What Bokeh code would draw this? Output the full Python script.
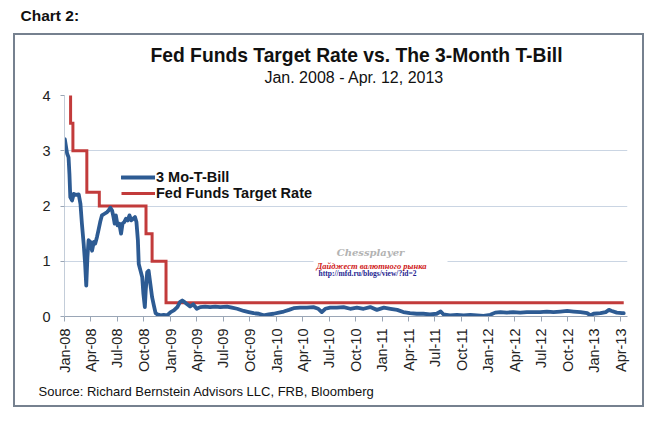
import pandas as pd
from math import pi
from bokeh.plotting import figure
from bokeh.layouts import column
from bokeh.models import (Range1d, FixedTicker, DatetimeTickFormatter, Label,
                          BoxAnnotation, Legend, LegendItem)
from bokeh.embed import file_html
from bokeh.resources import INLINE

# ---------------- data ----------------
tbill_dates = [
    "2008-01-02", "2008-01-10", "2008-01-15", "2008-01-18", "2008-01-21", "2008-01-27",
    "2008-02-02", "2008-02-10", "2008-02-19", "2008-02-25", "2008-03-01", "2008-03-07",
    "2008-03-12", "2008-03-16", "2008-03-20", "2008-03-24", "2008-03-30", "2008-04-05",
    "2008-04-11", "2008-04-16", "2008-04-22", "2008-04-27", "2008-05-03", "2008-05-09",
    "2008-05-18", "2008-05-27", "2008-06-01", "2008-06-07", "2008-06-13", "2008-06-18",
    "2008-06-22", "2008-06-26", "2008-07-02", "2008-07-08", "2008-07-14", "2008-07-19",
    "2008-07-25", "2008-07-31", "2008-08-06", "2008-08-12", "2008-08-18", "2008-08-25",
    "2008-08-31", "2008-09-05", "2008-09-10", "2008-09-13", "2008-09-19", "2008-09-25",
    "2008-09-29", "2008-10-04", "2008-10-07", "2008-10-12", "2008-10-17", "2008-10-23",
    "2008-10-29", "2008-11-04", "2008-11-10", "2008-11-16", "2008-11-27", "2008-12-08",
    "2008-12-20", "2009-01-01", "2009-01-12", "2009-01-24", "2009-02-02", "2009-02-10",
    "2009-02-18", "2009-02-27", "2009-03-09", "2009-03-20", "2009-04-01", "2009-04-13",
    "2009-04-30", "2009-05-17", "2009-06-04", "2009-06-21", "2009-07-14", "2009-07-31",
    "2009-08-18", "2009-09-10", "2009-09-27", "2009-10-14", "2009-11-01", "2009-11-18",
    "2009-12-05", "2009-12-22", "2010-01-09", "2010-01-26", "2010-02-13", "2010-03-01",
    "2010-03-23", "2010-04-16", "2010-05-08", "2010-05-25", "2010-06-06", "2010-06-18",
    "2010-07-05", "2010-07-28", "2010-08-20", "2010-09-12", "2010-10-05", "2010-10-28",
    "2010-11-20", "2010-12-13", "2011-01-06", "2011-01-29", "2011-02-21", "2011-03-14",
    "2011-04-06", "2011-04-29", "2011-05-22", "2011-06-14", "2011-07-07", "2011-07-21",
    "2011-07-30", "2011-08-22", "2011-09-15", "2011-10-08", "2011-10-31", "2011-11-23",
    "2011-12-16", "2012-01-08", "2012-01-25", "2012-02-12", "2012-03-05", "2012-03-27",
    "2012-04-20", "2012-05-13", "2012-06-05", "2012-06-28", "2012-07-21", "2012-08-13",
    "2012-09-06", "2012-09-29", "2012-10-21", "2012-11-14", "2012-12-07", "2012-12-18",
    "2012-12-29", "2013-01-22", "2013-02-09", "2013-02-20", "2013-03-02", "2013-03-19",
    "2013-04-06", "2013-04-12",
]
tbill_rates = [
    3.21, 2.95, 2.88, 2.58, 2.16, 2.10,
    2.22, 2.20, 2.21, 2.04, 1.68, 1.32,
    0.96, 0.56, 1.07, 1.38, 1.35, 1.19,
    1.35, 1.32, 1.44, 1.56, 1.71, 1.83,
    1.86, 1.89, 1.92, 1.97, 1.92, 1.80,
    1.68, 1.83, 1.65, 1.68, 1.50, 1.68,
    1.71, 1.77, 1.74, 1.83, 1.74, 1.77,
    1.80, 1.71, 1.38, 0.95, 0.83, 0.71,
    0.41, 0.17, 0.47, 0.80, 0.83, 0.59,
    0.35, 0.20, 0.06, 0.04, 0.02, 0.03,
    0.02, 0.08, 0.11, 0.17, 0.26, 0.29,
    0.26, 0.22, 0.18, 0.22, 0.14, 0.17,
    0.18, 0.17, 0.18, 0.17, 0.18, 0.16,
    0.14, 0.10, 0.08, 0.06, 0.05, 0.02,
    0.04, 0.05, 0.07, 0.09, 0.12, 0.15,
    0.16, 0.16, 0.17, 0.14, 0.08, 0.14,
    0.16, 0.16, 0.17, 0.14, 0.16, 0.14,
    0.17, 0.12, 0.16, 0.14, 0.12, 0.08,
    0.06, 0.05, 0.05, 0.04, 0.05, 0.09,
    0.04, 0.02, 0.03, 0.02, 0.03, 0.02,
    0.01, 0.03, 0.07, 0.08, 0.07, 0.08,
    0.07, 0.08, 0.08, 0.08, 0.09, 0.08,
    0.09, 0.10, 0.09, 0.08, 0.06, 0.02,
    0.05, 0.06, 0.08, 0.12, 0.10, 0.07,
    0.06, 0.06,
]
fed_dates = ["2008-01-01", "2008-01-22", "2008-01-30", "2008-03-18", "2008-04-30",
             "2008-10-08", "2008-10-29", "2008-12-16", "2013-04-12"]
fed_rates = [4.25, 3.50, 3.00, 2.25, 2.00, 1.50, 1.00, 0.25, 0.25]

x_tick_labels = ["Jan-08", "Apr-08", "Jul-08", "Oct-08", "Jan-09", "Apr-09", "Jul-09",
                 "Oct-09", "Jan-10", "Apr-10", "Jul-10", "Oct-10", "Jan-11", "Apr-11",
                 "Jul-11", "Oct-11", "Jan-12", "Apr-12", "Jul-12", "Oct-12", "Jan-13",
                 "Apr-13"]
y_ticks = [0, 1, 2, 3, 4]

# ---------------- styles ----------------
FONT = "Liberation Sans"
BLUE = "#2D5B93"
RED = "#C23B3B"
GRID = "#CAD5E3"
BOX = "#76818F"

tb_x = pd.to_datetime(tbill_dates)
fd_x = pd.to_datetime(fed_dates)
tick_dt = pd.to_datetime(x_tick_labels, format="%b-%y")
tick_ms = [float(t.value // 10**6) for t in tick_dt]


def text_fig(w, h):
    f = figure(width=w, height=h, output_backend="svg", toolbar_location=None,
               title=None, x_axis_location=None, y_axis_location=None,
               x_range=Range1d(0, 1), y_range=Range1d(0, 1), min_border=0,
               frame_align=False)
    f.outline_line_color = None
    f.grid.visible = False
    return f


def lab(f, text, x, y, size, style="normal", align="left", color="#111111", font=FONT):
    f.add_layout(Label(x=x, y=y, x_units="canvas", y_units="canvas", text=text,
                       text_font=font, text_font_size=size, text_font_style=style,
                       text_align=align, text_baseline="middle", text_color=color))


# header outside the box
header = text_fig(649, 33)
lab(header, "Chart 2:", 20, 15, "15.5px", "bold")

# title block inside the box
tfig = text_fig(627, 52)
lab(tfig, "Fed Funds Target Rate vs. The 3-Month T-Bill", 341, 20, "19.3px", "bold",
    "center")
lab(tfig, "Jan.  2008 - Apr. 12, 2013", 341, 42, "16px", "normal", "center")

# main chart
p = figure(width=627, height=289, x_axis_type="datetime", output_backend="svg",
           toolbar_location=None, title=None, frame_align=False,
           x_range=Range1d(pd.Timestamp("2008-01-01"), pd.Timestamp("2013-04-25")),
           y_range=Range1d(0, 4),
           min_border_left=49, min_border_right=15, min_border_top=8,
           min_border_bottom=60)
p.outline_line_color = None

p.xgrid.grid_line_color = None
p.ygrid.ticker = FixedTicker(ticks=y_ticks)
p.ygrid.grid_line_color = GRID
p.ygrid.grid_line_width = 1.2

p.yaxis.ticker = FixedTicker(ticks=y_ticks)
p.yaxis.major_label_text_font = FONT
p.yaxis.major_label_text_font_size = "14.5px"
p.yaxis.major_label_text_color = "#222222"
p.yaxis.major_tick_out = 4
p.yaxis.major_tick_in = 0
p.yaxis.minor_tick_line_color = None
p.yaxis.axis_line_color = "#C3CDD9"
p.yaxis.major_tick_line_color = "#9AA6B6"
p.yaxis.major_label_standoff = 10

p.xaxis.ticker = FixedTicker(ticks=tick_ms)
p.xaxis.formatter = DatetimeTickFormatter(months="%b-%y", days="%b-%y", years="%b-%y")
p.xaxis.major_label_overrides = {ms: t for ms, t in zip(tick_ms, x_tick_labels)}
p.xaxis.major_label_orientation = pi / 2
p.xaxis.major_label_text_font = FONT
p.xaxis.major_label_text_font_size = "14.5px"
p.xaxis.major_label_text_color = "#222222"
p.xaxis.major_tick_out = 5
p.xaxis.major_tick_in = 0
p.xaxis.minor_tick_line_color = None
p.xaxis.axis_line_color = "#9AA6B6"
p.xaxis.major_tick_line_color = "#9AA6B6"
p.xaxis.major_label_standoff = 7

r_fed = p.step(fd_x, fed_rates, mode="after", line_color=RED, line_width=3.0,
               line_join="miter")
r_tb = p.line(tb_x, tbill_rates, line_color=BLUE, line_width=3.8, line_join="round",
              line_cap="round")

legend = Legend(items=[LegendItem(label="3 Mo-T-Bill", renderers=[r_tb]),
                       LegendItem(label="Fed Funds Target Rate", renderers=[r_fed])],
                location=(57, 115), glyph_width=34, glyph_height=16, padding=0,
                margin=0, spacing=0, label_standoff=1, border_line_color=None,
                background_fill_alpha=0, label_text_font=FONT,
                label_text_font_size="14.5px", label_text_font_style="bold",
                label_text_color="#111111", label_height=16)
p.add_layout(legend, "center")

# watermark (canvas units of the main chart; origin at page (15, 87))
p.add_layout(BoxAnnotation(left=298, right=432, top=158, bottom=193,
                           left_units="canvas", right_units="canvas",
                           top_units="canvas", bottom_units="canvas",
                           fill_color="white", fill_alpha=1, line_alpha=0))
lab(p, "Chessplayer", 355, 165, "10px", "bold italic", "center", "#B3B3B3",
    "DejaVu Serif")
lab(p, "Дайджест валютного рынка", 356, 178, "8.5px", "bold italic", "center",
    "#D02020", "Liberation Serif")
lab(p, "http://mfd.ru/blogs/view/?id=2", 352, 186, "7.5px", "bold", "center",
    "#1E1E90", "Liberation Serif")

# source line inside the box
sfig = text_fig(627, 29)
lab(sfig, "Source: Richard Bernstein Advisors LLC, FRB, Bloomberg", 23, 15, "13px")

box = column(tfig, p, sfig, spacing=0, margin=(0, 0, 0, 13),
             styles={"border": "2px solid " + BOX})
page = column(header, box, spacing=0)

open("out.html", "w").write(file_html(page, INLINE))
